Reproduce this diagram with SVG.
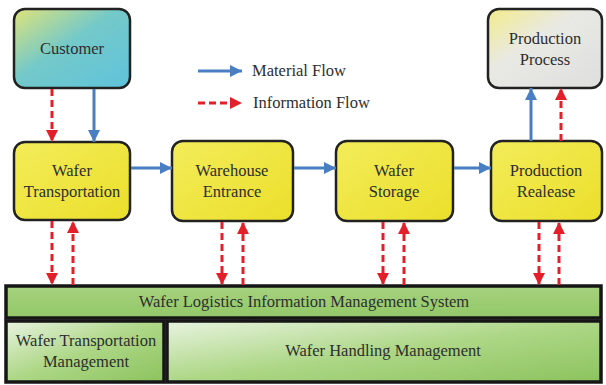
<svg xmlns="http://www.w3.org/2000/svg" width="606" height="385" viewBox="0 0 606 385">
<defs>
<style>
text{font-family:'Liberation Serif','Times New Roman',Times,serif;font-size:16.5px;fill:#2e2e2e;text-anchor:middle}
.box{stroke:#222;stroke-width:2.5}
.y{fill:url(#gy)}
.bar{stroke:#161616;stroke-width:3.5}
.mat{stroke:#4a7ec2;stroke-width:3;fill:none}
.inf{stroke:#e3202a;stroke-width:3;fill:none;stroke-dasharray:7 4}
</style>
<linearGradient id="gy" x1="0" y1="0" x2="1" y2="1"><stop offset="0" stop-color="#f3ec5a"/><stop offset="1" stop-color="#ebdf2a"/></linearGradient>
<linearGradient id="gc" x1="0" y1="0" x2="1" y2="1"><stop offset="0" stop-color="#dfe37a"/><stop offset="0.45" stop-color="#74c9c9"/><stop offset="1" stop-color="#5fc3dc"/></linearGradient>
<linearGradient id="gp" x1="0" y1="0" x2="1" y2="1"><stop offset="0" stop-color="#f2ec8a"/><stop offset="0.4" stop-color="#e9e9e4"/><stop offset="1" stop-color="#dedede"/></linearGradient>
<linearGradient id="gg" x1="0" y1="0" x2="0" y2="1"><stop offset="0" stop-color="#a6d27e"/><stop offset="1" stop-color="#93c768"/></linearGradient>
<linearGradient id="gl" x1="0" y1="0" x2="1" y2="1"><stop offset="0" stop-color="#e8f3e0"/><stop offset="0.5" stop-color="#add786"/><stop offset="1" stop-color="#8cc35e"/></linearGradient>
<marker id="ab" markerUnits="userSpaceOnUse" markerWidth="14" markerHeight="14" refX="12" refY="6" orient="auto"><path d="M0,0 L12,6 L0,12 Z" fill="#4a7ec2"/></marker>
<marker id="ar" markerUnits="userSpaceOnUse" markerWidth="14" markerHeight="14" refX="12" refY="6" orient="auto"><path d="M0,0 L12,6 L0,12 Z" fill="#e3202a"/></marker>
</defs>

<g id="customer"><rect class="box" x="14" y="9" width="116" height="79" rx="11" fill="url(#gc)"/><text x="72" y="54">Customer</text></g>
<g id="production-process"><rect class="box" x="488" y="9" width="114" height="79" rx="11" fill="url(#gp)"/><text x="545" y="44">Production</text><text x="545" y="65">Process</text></g>
<g id="wafer-transportation"><rect class="box y" x="14" y="142" width="116" height="78" rx="11"/><text x="72" y="176">Wafer</text><text x="72" y="197">Transportation</text></g>
<g id="warehouse-entrance"><rect class="box y" x="172" y="141" width="121" height="80" rx="11"/><text x="232" y="176">Warehouse</text><text x="232" y="197">Entrance</text></g>
<g id="wafer-storage"><rect class="box y" x="336" y="141" width="117" height="80" rx="11"/><text x="394" y="176">Wafer</text><text x="394" y="197">Storage</text></g>
<g id="production-realease"><rect class="box y" x="491" y="141" width="111" height="80" rx="11"/><text x="546" y="176">Production</text><text x="546" y="197">Realease</text></g>

<g id="wlims"><rect class="bar" x="6" y="286" width="595" height="32" fill="url(#gg)"/><text x="304" y="307">Wafer Logistics Information Management System</text></g>
<g id="wtm"><rect class="bar" x="6" y="321" width="158" height="61" fill="url(#gl)"/><text x="86" y="346">Wafer Transportation</text><text x="86" y="367">Management</text></g>
<g id="whm"><rect class="bar" x="167" y="321" width="434" height="61" fill="url(#gl)"/><text x="383" y="356">Wafer Handling Management</text></g>

<g id="legend">
<line class="mat" x1="198" y1="71" x2="242" y2="71" marker-end="url(#ab)"/><text x="252" y="76" style="text-anchor:start">Material Flow</text>
<line class="inf" x1="198" y1="103" x2="242" y2="103" marker-end="url(#ar)"/><text x="253" y="108" style="text-anchor:start">Information Flow</text>
</g>

<g id="connectors">
<line class="inf" x1="52" y1="89" x2="52" y2="142" marker-end="url(#ar)"/>
<line class="mat" x1="94" y1="89" x2="94" y2="142" marker-end="url(#ab)"/>
<line class="mat" x1="131" y1="168" x2="172" y2="168" marker-end="url(#ab)"/>
<line class="mat" x1="294" y1="168" x2="336" y2="168" marker-end="url(#ab)"/>
<line class="mat" x1="454" y1="168" x2="491" y2="168" marker-end="url(#ab)"/>
<line class="mat" x1="531" y1="141" x2="531" y2="88" marker-end="url(#ab)"/>
<line class="inf" x1="561" y1="141" x2="561" y2="88" marker-end="url(#ar)"/>
<line class="inf" x1="52" y1="221" x2="52" y2="285" marker-end="url(#ar)"/>
<line class="inf" x1="73" y1="285" x2="73" y2="221" marker-end="url(#ar)"/>
<line class="inf" x1="222" y1="222" x2="222" y2="285" marker-end="url(#ar)"/>
<line class="inf" x1="243" y1="285" x2="243" y2="222" marker-end="url(#ar)"/>
<line class="inf" x1="383" y1="222" x2="383" y2="285" marker-end="url(#ar)"/>
<line class="inf" x1="404" y1="285" x2="404" y2="222" marker-end="url(#ar)"/>
<line class="inf" x1="539" y1="222" x2="539" y2="285" marker-end="url(#ar)"/>
<line class="inf" x1="559" y1="285" x2="559" y2="222" marker-end="url(#ar)"/>
</g>
</svg>
